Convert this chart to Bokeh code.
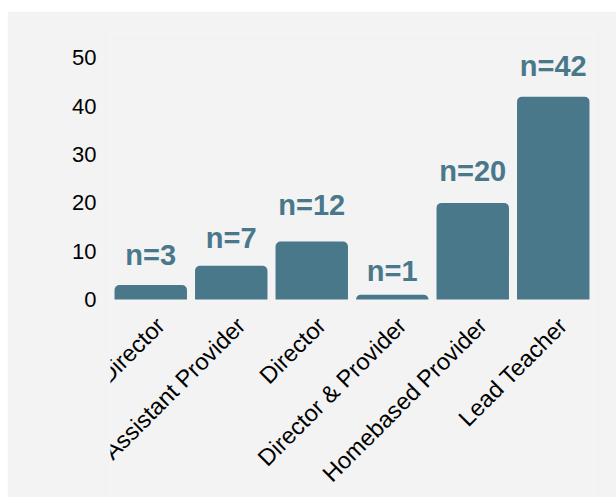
from bokeh.plotting import figure
from bokeh.models import FactorRange, Range1d, ColumnDataSource, FixedTicker
from bokeh.core.properties import value
from bokeh.embed import file_html
from bokeh.resources import INLINE
import math

categories = ["Assistant Director", "Assistant Provider", "Director",
              "Director & Provider", "Homebased Provider", "Lead Teacher"]
counts = [3, 7, 12, 1, 20, 42]
labels = ["n=%d" % c for c in counts]
label_y = [7.0, 10.5, 17.2, 3.6, 24.3, 46.0]
y_ticks = [0, 10, 20, 30, 40, 50]

BG = "#f3f3f3"
BAR = "#4a788b"

src = ColumnDataSource(dict(cat=categories, n=counts, lab=labels, ly=label_y,
                            zero=[0] * len(categories)))

# the frame reaches the bottom edge so that the rotated category labels
# (drawn as text glyphs below y=0) are not clipped
p = figure(x_range=FactorRange(*categories), y_range=Range1d(-41.0, 55.07),
           width=609, height=486, output_backend="svg", toolbar_location=None,
           x_axis_location=None,
           min_border_left=103, min_border_right=23, min_border_top=22,
           min_border_bottom=0)
p.margin = (11, 0, 0, 7)
p.background_fill_color = BG
p.border_fill_color = BG
p.outline_line_color = None
p.grid.grid_line_color = None

p.vbar(x="cat", top="n", width=0.9, source=src, fill_color=BAR,
       line_color=None, border_radius=(5, 5, 0, 0))
p.text(x="cat", y="ly", text="lab", source=src, text_align="center",
       text_baseline="alphabetic", y_offset=-11, text_color=BAR,
       text_font=value("Liberation Sans"), text_font_style="bold",
       text_font_size="29px")

# category labels, rotated 45 degrees
p.text(x="cat", y="zero", text="cat", source=src, angle=math.pi / 4,
       text_align="right", text_baseline="middle", x_offset=10, y_offset=22,
       text_color="#000000", text_font=value("Liberation Sans"),
       text_font_size="23.5px")

ax = p.yaxis
ax.axis_line_color = None
ax.major_tick_line_color = None
ax.minor_tick_line_color = None
ax.major_tick_out = 0
ax.major_tick_in = 0
ax.major_label_text_font = "Liberation Sans"
ax.major_label_text_color = "#000000"
ax.major_label_text_font_size = "22px"
ax.ticker = FixedTicker(ticks=y_ticks)
ax.major_label_standoff = 14

open("out.html", "w").write(file_html(p, INLINE))
